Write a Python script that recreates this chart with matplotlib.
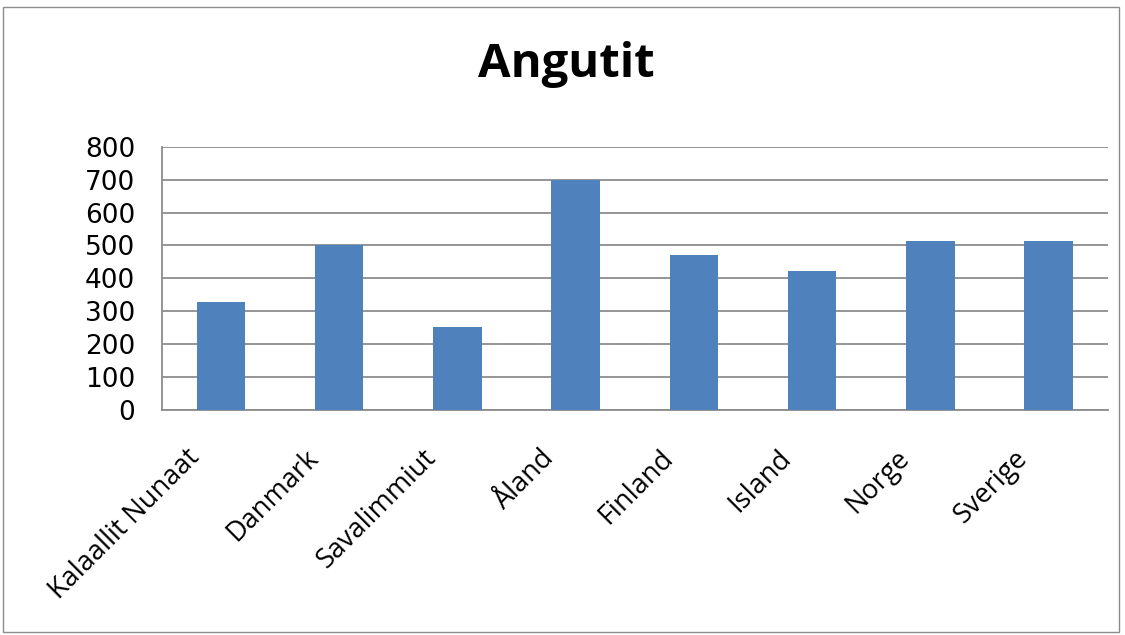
import matplotlib
matplotlib.use("Agg")
import matplotlib.pyplot as plt
from matplotlib.patches import Rectangle
from matplotlib.transforms import ScaledTranslation

# Data
lande = ["Kalaallit Nunaat", "Danmark", "Savalimmiut", "Åland",
         "Finland", "Island", "Norge", "Sverige"]
angutit = [328, 500, 250, 700, 470, 422, 515, 515]
yticks = [0, 100, 200, 300, 400, 500, 600, 700, 800]

fig = plt.figure(figsize=(11.25, 6.35), dpi=100)
ax = fig.add_axes([0.1437, 0.3551, 0.8409, 0.4134])

# outer frame like the Excel chart area
fig.patches.append(Rectangle((3 / 1125, 3 / 635), 1116 / 1125, 625 / 635,
                             transform=fig.transFigure, fill=False,
                             edgecolor="#8c8c8c", linewidth=1.0))

x = range(len(lande))
ax.bar(x, angutit, width=0.41, color="#4F81BD", zorder=3)

ax.set_xlim(-0.5, len(lande) - 0.5)
ax.set_ylim(0, 800)
ax.set_yticks(yticks)
ax.set_yticklabels([str(v) for v in yticks], fontsize=19, family="DejaVu Sans")
ax.yaxis.grid(True, color="#8c8c8c", linewidth=1.3, zorder=0)
ax.tick_params(axis="both", length=0)
ax.tick_params(axis="y", pad=19)

ax.set_xticks(list(x))
ax.set_xticklabels(lande, rotation=45, ha="right", va="center",
                   rotation_mode="anchor", fontsize=19.5, family="Open Sans")
ax.tick_params(axis="x", pad=32)
# shift the rotated labels left, as in the original
shift = ScaledTranslation(-0.25, 0, fig.dpi_scale_trans)
for lab in ax.get_xticklabels():
    lab.set_transform(lab.get_transform() + shift)

for side in ["top", "right"]:
    ax.spines[side].set_visible(False)
for side in ["left", "bottom"]:
    ax.spines[side].set_color("#8c8c8c")
    ax.spines[side].set_linewidth(1.3)

fig.text(0.503, 0.898, "Angutit", ha="center", va="center",
         fontsize=34, fontweight="bold", family="Open Sans")

fig.savefig("out.png", dpi=100)
